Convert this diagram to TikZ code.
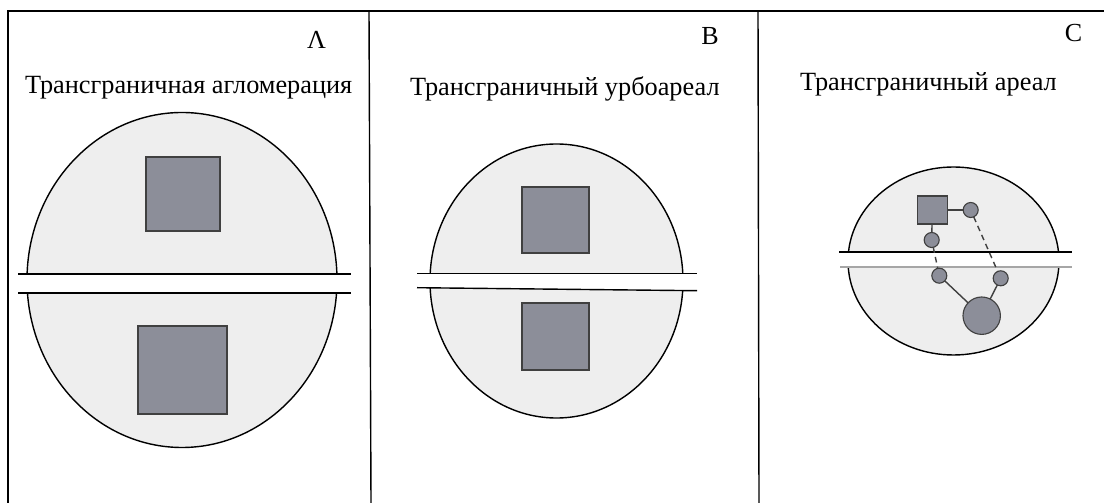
\documentclass[tikz,border=0pt]{standalone}
\usepackage{fontspec}
\setmainfont{Liberation Serif}
\usepackage{tikz}
\usetikzlibrary{positioning}
\definecolor{lensgrey}{HTML}{EEEEEE}
\definecolor{slate}{HTML}{8C8E99}
\definecolor{edgegrey}{HTML}{404040}

\begin{document}
\begin{tikzpicture}[x=0.025cm, y=-0.025cm, every node/.style={inner sep=0pt,outer sep=0pt}, title/.style={anchor=base west,font=\fontsize{18.7}{22}\selectfont}, letter/.style={anchor=base,font=\fontsize{18.5}{22}\selectfont}, frame/.style={draw=black,line width=1pt}, lens/.style={fill=lensgrey,draw=black,line width=1pt}, gap/.style={fill=white}, rim/.style={draw=black,line width=1pt}, city/.style={rectangle,fill=slate,draw=edgegrey,line width=.8pt}, town/.style={circle,fill=slate,draw=edgegrey,line width=.8pt,minimum size=3.75mm}, link/.style={draw=edgegrey,line width=1pt}, dlink/.style={link,dash pattern=on 4pt off 3pt}]
\useasboundingbox (0,0) rectangle (1104,503);
\draw[frame] (8,503) -- (8,11) -- (1104,11);
\draw[frame] (369,11) -- (371,503);
\draw[frame] (758,11) -- (759,503);
\node[letter] (la) at (316.5,49) {Λ};
\node[letter] (lb) at (710,45) {B};
\node[letter] (lc) at (1073.5,41.5) {C};
\node[title] (ta) at (25,93.3) {Трансграничная агломерация};
\node[title] (tb) at (410,95.7) {Трансграничный урбоареал};
\node[title] (tc) at (800,90.7) {Трансграничный ареал};
\draw[lens] (182,280) ellipse [x radius=155,y radius=167.5];
\fill[gap] (18,274) rectangle (351,293);
\draw[rim] (18,274) -- (351,274); \draw[rim] (18,293) -- (351,293);
\node[city,minimum width=1.85cm,minimum height=1.85cm] (a1) at (183,194) {};
\node[city,minimum width=2.225cm,minimum height=2.2cm] (a2) at (182.5,370) {};
\draw[lens] (556.5,281) ellipse [x radius=126.5,y radius=137];
\fill[gap] (417,273.3) -- (697,273.3) -- (697,290.7) -- (417,287.7) -- cycle;
\draw[rim] (417,273.3) -- (697,273.3); \draw[rim] (417,287.7) -- (697,290.7);
\node[city,minimum width=1.675cm,minimum height=1.65cm] (b1) at (555.5,220) {};
\node[city,minimum width=1.675cm,minimum height=1.675cm] (b2) at (555.5,336.5) {};
\draw[lens] (953.5,261) ellipse [x radius=105.5,y radius=94];
\fill[gap] (839,252) rectangle (1072,267);
\draw[rim] (839,252) -- (1072,252); \draw[rim,draw=gray!70] (840,267) -- (1072,267);
\node[city,minimum width=.75cm,minimum height=.7cm] (hub) at (932.3,210) {};
\node[town] (ne) at (970.7,210) {};
\node[town] (nw) at (931.7,240) {};
\node[town] (sw) at (939.3,275.7) {};
\node[town] (se) at (1000.7,278.3) {};
\node[town,minimum size=9.35mm] (core) at (981.7,315.7) {};
\draw[link] (hub) -- (ne); \draw[link] (hub) -- (nw);
\draw[link] (sw) -- (core); \draw[link] (se) -- (core);
\draw[dlink] (nw) -- (sw); \draw[dlink] (ne) -- (se);
\end{tikzpicture}
\end{document}
